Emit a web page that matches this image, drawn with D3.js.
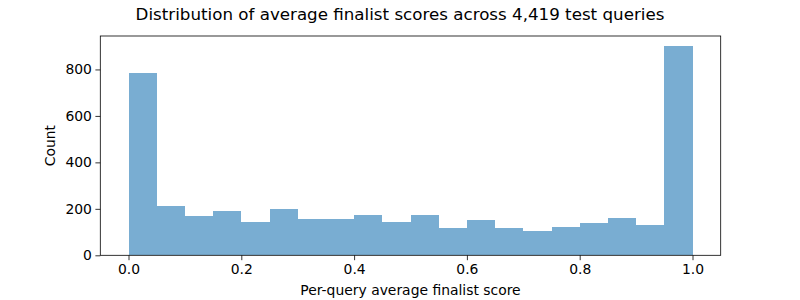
<!DOCTYPE html>
<html>
<head>
<meta charset="utf-8">
<script src="https://cdn.jsdelivr.net/npm/d3@7"></script>
<style>
  body { margin: 0; background: #fff; }
  svg text { font-family: "DejaVu Sans", sans-serif; fill: #000; }
</style>
</head>
<body>
<div id="chart"></div>
<script>
// histogram bins: 20 bins of width 0.05 from 0 to 1
const binEdges = d3.range(0, 21).map(i => i * 0.05);
const counts = [786, 211, 168, 189, 142, 198, 155, 155, 172, 142,
                172, 116, 150, 116, 106, 120, 137, 159, 129, 899];
const xTicks = [0.0, 0.2, 0.4, 0.6, 0.8, 1.0];
const yTicks = [0, 200, 400, 600, 800];

const width = 800, height = 300;
const margin = {top: 36, right: 79.3, bottom: 44.7, left: 100.3};
const innerW = width - margin.left - margin.right;
const innerH = height - margin.top - margin.bottom;

const svg = d3.select("#chart").append("svg")
  .attr("width", width)
  .attr("height", height);

const g = svg.append("g")
  .attr("transform", `translate(${margin.left},${margin.top})`);

const x = d3.scaleLinear().domain([-0.05, 1.05]).range([0, innerW]);
const y = d3.scaleLinear().domain([0, d3.max(counts) * 1.05]).range([innerH, 0]);

// bars (drawn in one colour, no gaps between bins)
g.selectAll("rect.bar")
  .data(counts)
  .enter()
  .append("rect")
  .attr("class", "bar")
  .attr("x", (d, i) => x(binEdges[i]))
  .attr("width", (d, i) => x(binEdges[i + 1]) - x(binEdges[i]))
  .attr("y", d => y(d))
  .attr("height", d => innerH - y(d))
  .attr("fill", "#79add2")
  .attr("shape-rendering", "crispEdges");

// axes
const xAxis = g.append("g")
  .attr("transform", `translate(0,${innerH})`)
  .call(d3.axisBottom(x).tickValues(xTicks).tickFormat(d3.format(".1f"))
    .tickSize(4.9).tickPadding(3.5));

const yAxis = g.append("g")
  .call(d3.axisLeft(y).tickValues(yTicks).tickSize(4.9).tickPadding(3.5));

[xAxis, yAxis].forEach(a => {
  a.select(".domain").remove();
  a.selectAll("line").attr("stroke", "#000").attr("stroke-width", 0.8);
  a.selectAll("text").attr("font-size", "13.9px").attr("fill", "#000");
});

// frame
g.append("rect")
  .attr("x", 0).attr("y", 0)
  .attr("width", innerW).attr("height", innerH)
  .attr("fill", "none")
  .attr("stroke", "#000")
  .attr("stroke-width", 0.8);

// title
svg.append("text")
  .attr("x", width / 2)
  .attr("y", 20)
  .attr("text-anchor", "middle")
  .attr("font-size", "16.7px")
  .text("Distribution of average finalist scores across 4,419 test queries");

// axis labels
svg.append("text")
  .attr("x", margin.left + innerW / 2)
  .attr("y", 295)
  .attr("text-anchor", "middle")
  .attr("font-size", "13.9px")
  .text("Per-query average finalist score");

svg.append("text")
  .attr("transform", `translate(55,${margin.top + innerH / 2}) rotate(-90)`)
  .attr("text-anchor", "middle")
  .attr("font-size", "13.9px")
  .text("Count");
</script>
</body>
</html>
